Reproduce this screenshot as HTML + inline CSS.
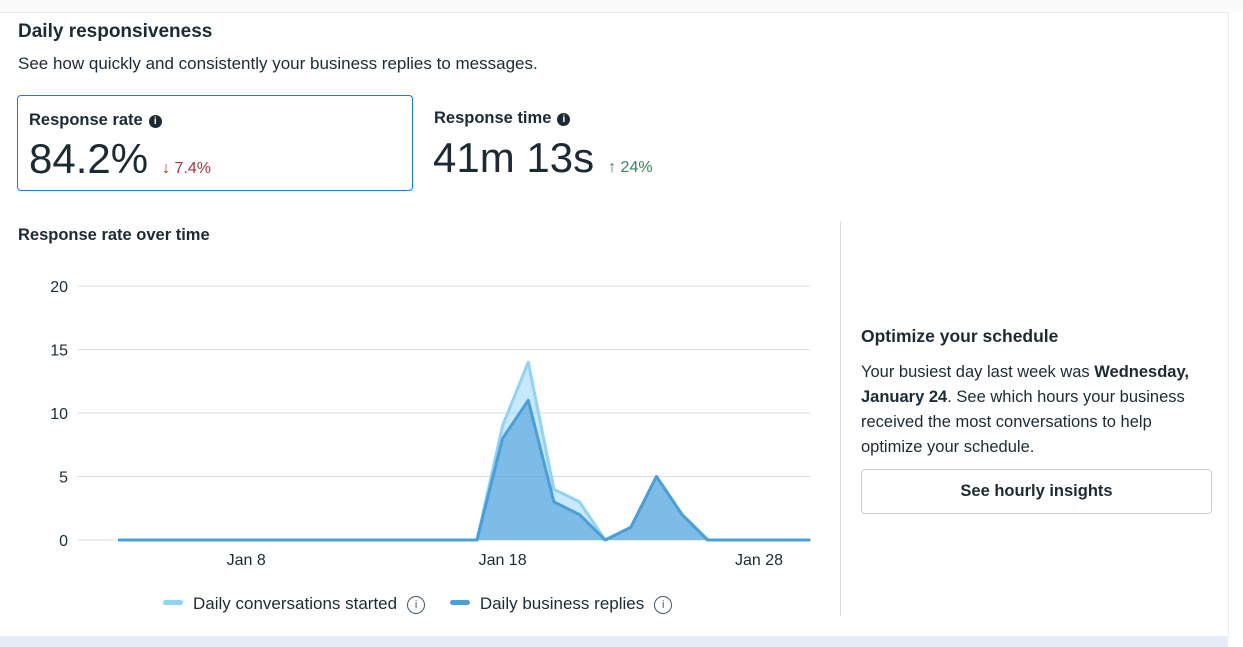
<!DOCTYPE html>
<html><head><meta charset="utf-8"><style>
body{margin:0;width:1243px;height:647px;overflow:hidden;background:#fff;font-family:"Liberation Sans",sans-serif;color:#1c2b33;position:relative}
.card{position:absolute;left:0;top:12px;width:1228px;height:624px;background:#fff;border-top:1px solid #e9ebee;border-right:1px solid #e9ebee}
.abs{position:absolute}
.info{display:inline-block;width:13px;height:13px;border-radius:50%;background:#1c2b33;color:#fff;font-size:10px;line-height:13px;text-align:center;font-weight:bold;vertical-align:1px;margin-left:6px}
.oinfo{display:inline-block;width:16px;height:16px;border-radius:50%;border:1.5px solid #465a69;color:#465a69;font-size:11px;line-height:16px;text-align:center;vertical-align:1px;margin-left:10px}
</style></head><body>
<div class="abs" style="left:0;top:0;width:1243px;height:12px;background:#fbfbfc"></div>
<div class="card">
<div class="abs" style="left:18px;top:8px;font-size:19px;font-weight:bold">Daily responsiveness</div>
<div class="abs" style="left:18px;top:41px;font-size:17px">See how quickly and consistently your business replies to messages.</div>
<div class="abs" style="left:17px;top:82px;width:394px;height:94px;border:1px solid #1877f2;border-radius:4px">
 <div class="abs" style="left:11px;top:15px;font-size:16.5px;font-weight:bold">Response rate<span class="info">i</span></div>
 <div class="abs" style="left:11px;top:39px;font-size:42px">84.2%<span style="font-size:16px;color:#a4343a;margin-left:14px">↓ 7.4%</span></div>
</div>
<div class="abs" style="left:433px;top:84px;width:394px;height:94px">
 <div class="abs" style="left:1px;top:12px;font-size:16.5px;font-weight:bold">Response time<span class="info">i</span></div>
 <div class="abs" style="left:0;top:37px;font-size:42px">41m 13s<span style="font-size:16px;color:#2e8b57;margin-left:14px">↑ 24%</span></div>
</div>
<div class="abs" style="left:18px;top:213px;font-size:16.5px;font-weight:bold">Response rate over time</div>
<div class="abs" style="left:840px;top:208px;width:1px;height:395px;background:#dadde1"></div>
<div class="abs" style="left:861px;top:313px;font-size:17.5px;font-weight:bold">Optimize your schedule</div>
<div class="abs" style="left:861px;top:347px;width:345px;font-size:16.5px;line-height:25px">Your busiest day last week was <b>Wednesday, January 24</b>. See which hours your business received the most conversations to help optimize your schedule.</div>
<div class="abs" style="left:861px;top:456px;width:349px;height:43px;border:1px solid #ccd0d5;border-radius:4px;text-align:center;line-height:43px;font-size:16.5px;font-weight:bold">See hourly insights</div>
</div>
<div class="abs" style="left:0;top:636px;width:1228px;height:11px;background:#e7ecf7"></div>
<svg class="abs" style="left:0;top:0" width="840" height="647" id="chart"></svg>
<div class="abs" style="left:163px;top:594px;font-size:17px;white-space:nowrap">
<span><span style="display:inline-block;width:20px;height:5px;border-radius:3px;background:#8fd3f8;vertical-align:4px;margin-right:10px"></span>Daily conversations started<span class="oinfo">i</span></span>
<span style="margin-left:20px"><span style="display:inline-block;width:20px;height:5px;border-radius:3px;background:#4a9fd8;vertical-align:4px;margin-right:10px"></span>Daily business replies<span class="oinfo">i</span></span>
</div>
<script>
const days=[3,4,5,6,7,8,9,10,11,12,13,14,15,16,17,18,19,20,21,22,23,24,25,26,27,28,29,30];
const started=[0,0,0,0,0,0,0,0,0,0,0,0,0,0,0,9,14,4,3,0,1,5,2,0,0,0,0,0];
const replies=[0,0,0,0,0,0,0,0,0,0,0,0,0,0,0,8,11,3,2,0,1,5,2,0,0,0,0,0];
const yTicks=[0,5,10,15,20];
const xTicks=[{d:8,l:"Jan 8"},{d:18,l:"Jan 18"},{d:28,l:"Jan 28"}];
const svg=document.getElementById('chart'),NS="http://www.w3.org/2000/svg";
const x=d=>118+(d-3)*(759-118)/25, y=v=>540-v*(254/20);
function mk(t,a){const e=document.createElementNS(NS,t);for(const k in a)e.setAttribute(k,a[k]);svg.appendChild(e);return e;}
yTicks.forEach(v=>{const g=mk('line',{x1:78,x2:810,y1:y(v),y2:y(v),stroke:'#dadde1'});

const t=mk('text',{x:68,y:y(v)+6,'text-anchor':'end','font-size':16,fill:'#1c2b33','font-family':'Liberation Sans'});t.textContent=v;
});
xTicks.forEach(o=>{const t=mk('text',{x:x(o.d),y:565,'text-anchor':'middle','font-size':16,fill:'#1c2b33','font-family':'Liberation Sans'});t.textContent=o.l;
});
function series(vals,fill,stroke,name){
 const pts=days.map((d,i)=>x(d)+','+y(vals[i])).join(' ');
 const a=mk('polygon',{points:x(days[0])+','+y(0)+' '+pts+' '+x(days[days.length-1])+','+y(0),fill:fill});
 
 const l=mk('polyline',{points:pts,fill:'none',stroke:stroke,'stroke-width':3,'stroke-linejoin':'round'});
 
}
series(started,'rgba(143,211,248,0.5)','#8fd3f8','conversations-started');
series(replies,'rgba(74,159,216,0.6)','#4a9fd8','business-replies');
</script>
</body></html>
